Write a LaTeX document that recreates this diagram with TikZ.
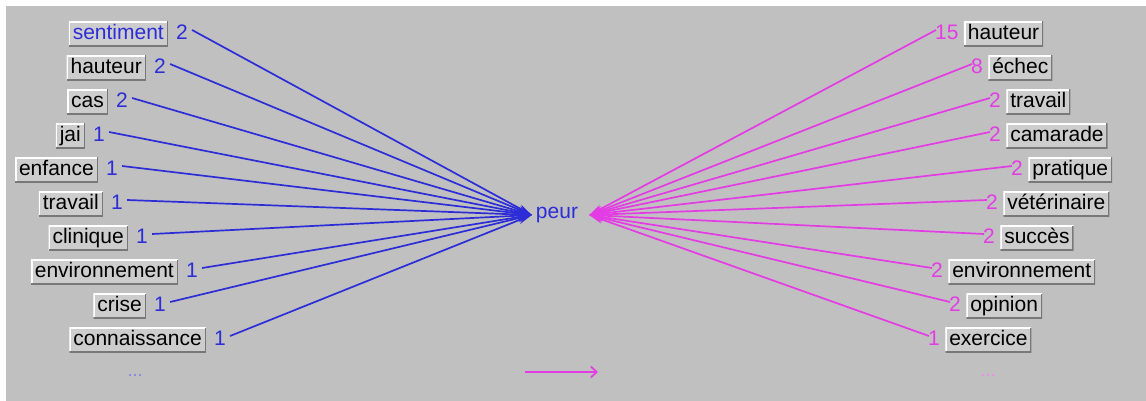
\documentclass[tikz,border=0pt]{standalone}
\usepackage{fontspec}
\setmainfont{Liberation Sans}
\usetikzlibrary{arrows.meta, positioning}

\definecolor{panel}{RGB}{192,192,192}
\definecolor{keyfill}{RGB}{205,205,205}
\definecolor{keyshade}{RGB}{120,120,120}
\definecolor{fromblue}{RGB}{45,45,215}
\definecolor{tomagenta}{RGB}{228,60,228}

\begin{document}
\begin{tikzpicture}[
  x=1pt, y=-1pt,
  every node/.style={font=\fontsize{21}{23}\selectfont},
  key/.style={fill=keyfill, inner xsep=4pt, inner ysep=0pt, minimum height=25pt,
    text height=15pt, text depth=4pt,
    path picture={
      \draw[white, line width=3.4pt] (path picture bounding box.south west) |- (path picture bounding box.north east);
      \draw[keyshade, line width=2.4pt] (path picture bounding box.south west) -| (path picture bounding box.north east);
    }},
  cnt/.style={inner sep=0pt, text height=15pt, text depth=4pt},
  link/.style={line width=1.7pt},
  more/.style={font=\fontsize{18}{20}\selectfont},
]
  \useasboundingbox (0,0) rectangle (1146,401);
  \fill[white] (0,0) rectangle (1146,401);
  \fill[panel] (6,6) rectangle (1146,401);

  % centre word
  \node[fromblue, inner sep=0pt] (peur) at (557,215) {peur};
  \coordinate (in)  at ([xshift=-4pt]peur.west);
  \coordinate (out) at ([xshift=11pt]peur.east);

  % words before
  \foreach \w/\c/\xe/\y/\col [count=\k] in {
      sentiment/2/168/34/fromblue, hauteur/2/146/68/black, cas/2/108/102/black,
      jai/1/85/136/black, enfance/1/98/170/black, travail/1/103/204/black,
      clinique/1/128/238/black, environnement/1/178/272/black,
      crise/1/146/306/black, connaissance/1/206/340/black} {
    \node[key, text=\col, anchor=east] (src\k) at (\xe,\y) {\w};
    \node[cnt, fromblue, right=8pt of src\k] (srcn\k) {\c};
    \draw[link, fromblue, -{Stealth[length=14pt, width=8pt]}]
      ([xshift=4pt, yshift=4pt]srcn\k.east) -- (in);
  }
  \node[more, fromblue!60] (srcmore) at (135,376) {...};

  % words after
  \foreach \w/\c/\xw/\y [count=\k] in {
      hauteur/15/935/34, échec/8/971/68, travail/2/989/102,
      camarade/2/989/136, pratique/2/1011/170, vétérinaire/2/986/204,
      succès/2/983/238, environnement/2/931/272, opinion/2/949/306,
      exercice/1/928/340} {
    \node[cnt, tomagenta, anchor=west] (dstn\k) at (\xw,\y) {\c};
    \node[key, right=5pt of dstn\k] (dst\k) {\w};
    \draw[link, tomagenta, {Stealth[length=14pt, width=8pt]}-]
      (out) -- ([xshift=1pt, yshift=4pt]dstn\k.west);
  }
  \node[more, tomagenta!60] (dstmore) at (988,376) {...};

  % reading direction
  \coordinate (dirA) at (525,372);
  \coordinate (dirB) at (598,372);
  \draw[tomagenta, line width=1.7pt, -{Straight Barb[length=6pt, width=11pt]}] (dirA) -- (dirB);
\end{tikzpicture}
\end{document}
